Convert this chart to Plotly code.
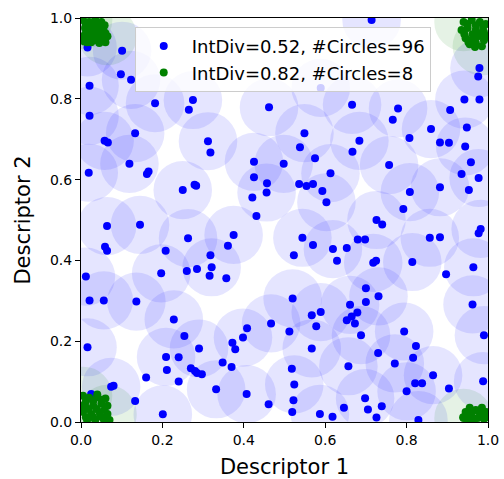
import plotly.graph_objects as go

# ---- data ----
blue_x = [0.016,0.101,0.098,0.123,0.021,0.182,0.275,0.265,0.021,0.133,0.058,0.066,0.312,
          0.589,0.462,0.666,0.549,0.538,
          0.714,0.979,0.976,0.779,0.942,0.979,0.907,0.766,0.860,0.948,0.807,0.684,0.882,0.904,0.944,0.667,
          0.318,0.119,0.019,0.166,0.162,0.250,0.279,0.283,0.064,0.145,0.263,0.059,0.064,0.208,0.318,0.321,0.285,0.260,0.197,0.316,0.012,
          0.425,0.498,0.575,0.425,0.457,0.456,0.421,0.613,0.536,0.554,0.570,0.593,0.603,0.431,0.375,0.361,0.544,0.570,0.523,0.619,0.653,0.629,0.357,
          0.757,0.958,0.935,0.977,0.882,0.953,0.808,0.792,0.726,0.740,0.982,0.977,0.680,0.698,0.857,0.882,0.718,0.725,0.814,0.964,0.897,0.700,
          0.021,0.056,0.136,0.228,0.254,0.016,0.290,0.209,0.240,0.211,0.270,0.280,0.285,0.297,0.160,0.240,0.074,0.080,0.025,0.133,0.201,0.332,
          0.520,0.661,0.567,0.589,0.467,0.408,0.512,0.578,0.653,0.665,0.398,0.372,0.379,0.567,0.348,0.370,0.518,0.657,0.524,0.407,0.522,0.461,0.519,0.587,0.618,0.646,
          0.731,0.700,0.962,0.679,0.673,0.794,0.688,0.990,0.823,0.730,0.816,0.771,0.865,0.988,0.821,0.838,0.904,0.800,0.698,0.705,0.739,0.726,0.829]
blue_y = [0.927,0.919,0.861,0.847,0.832,0.789,0.797,0.773,0.758,0.715,0.696,0.692,0.695,
          0.827,0.779,0.785,0.715,0.680,
          0.995,0.876,0.855,0.776,0.798,0.798,0.772,0.748,0.725,0.729,0.703,0.696,0.692,0.691,0.682,0.669,
          0.667,0.639,0.617,0.620,0.614,0.574,0.587,0.585,0.485,0.488,0.455,0.434,0.424,0.424,0.413,0.383,0.379,0.374,0.368,0.362,0.360,
          0.644,0.639,0.653,0.606,0.591,0.568,0.556,0.616,0.589,0.584,0.589,0.572,0.544,0.510,0.463,0.436,0.456,0.438,0.413,0.428,0.431,0.399,0.356,
          0.636,0.643,0.614,0.604,0.581,0.574,0.569,0.527,0.500,0.489,0.478,0.467,0.452,0.452,0.456,0.457,0.394,0.399,0.396,0.383,0.366,0.331,
          0.301,0.301,0.298,0.254,0.213,0.185,0.182,0.161,0.160,0.129,0.133,0.126,0.121,0.118,0.110,0.100,0.087,0.090,0.069,0.052,0.019,0.081,
          0.306,0.290,0.264,0.272,0.244,0.232,0.224,0.237,0.252,0.261,0.209,0.196,0.180,0.182,0.147,0.136,0.132,0.138,0.093,0.069,0.054,0.044,0.025,0.020,0.013,0.035,
          0.311,0.297,0.291,0.271,0.244,0.224,0.215,0.215,0.188,0.171,0.159,0.145,0.116,0.101,0.096,0.096,0.083,0.076,0.059,0.031,0.039,0.011,0.005]

green_x = [0.005,0.020,0.035,0.050,0.010,0.025,0.040,0.055,0.005,0.020,0.035,0.050,0.065,0.015,0.045,0.060,0.030,
           0.012,0.028,0.043,0.058,0.012,0.028,0.045,0.060,0.025,0.040,0.008,
           0.940,0.960,0.980,0.995,0.935,0.950,0.970,0.990,0.945,0.960,0.975,0.990,0.955,0.985,
           0.950,0.970,0.988,0.942,0.962,0.980,0.952,0.970,0.995,0.968,
           0.005,0.020,0.040,0.060,0.010,0.030,0.050,0.065,0.005,0.025,0.045,0.065,0.015,0.035,0.055,0.070,
           0.012,0.030,0.050,0.018,0.038,0.058,0.012,0.030,0.048,0.062,0.005,0.040,
           0.940,0.945,0.955,0.970,0.985,0.995,0.960,0.975,0.990,0.950,0.939,
           0.962,0.980,0.948,0.965,0.985,0.998]
green_y = [0.995,0.990,0.995,0.990,0.975,0.970,0.975,0.970,0.955,0.950,0.955,0.950,0.955,0.940,0.938,0.940,0.945,
           0.983,0.982,0.984,0.982,0.963,0.962,0.962,0.962,0.940,0.945,0.942,
           0.990,0.995,0.990,0.985,0.970,0.975,0.970,0.965,0.950,0.945,0.955,0.945,0.935,0.930,
           0.985,0.982,0.978,0.960,0.960,0.962,0.940,0.938,0.955,0.928,
           0.065,0.060,0.062,0.058,0.045,0.040,0.045,0.040,0.025,0.020,0.025,0.020,0.005,0.005,0.008,0.005,
           0.052,0.052,0.055,0.032,0.032,0.030,0.012,0.012,0.014,0.012,0.040,0.068,
           0.010,0.025,0.035,0.030,0.035,0.025,0.015,0.010,0.008,0.005,0.012,
           0.028,0.022,0.018,0.005,0.015,0.012]

tick_vals = [0.0, 0.2, 0.4, 0.6, 0.8, 1.0]
tick_text = ["0.0", "0.2", "0.4", "0.6", "0.8", "1.0"]
labels = ["IntDiv=0.52, #Circles=96", "IntDiv=0.82, #Circles=8"]
radius = 0.072


def circle_centers(xs, ys, r):
    cx, cy = [], []
    for x, y in zip(xs, ys):
        if all((x - a) ** 2 + (y - b) ** 2 > r * r for a, b in zip(cx, cy)):
            cx.append(x)
            cy.append(y)
    return cx, cy


shapes = []
for xs, ys, col in [(blue_x, blue_y, "rgba(0,0,255,0.1)"), (green_x, green_y, "rgba(0,128,0,0.1)")]:
    cx, cy = circle_centers(xs, ys, radius)
    for a, b in zip(cx, cy):
        shapes.append(dict(type="circle", xref="x", yref="y", x0=a - radius, x1=a + radius,
                           y0=b - radius, y1=b + radius, fillcolor=col, line=dict(width=0),
                           layer="below"))

fig = go.Figure()
fig.add_trace(go.Scatter(x=blue_x, y=blue_y, mode="markers", name=labels[0],
                         marker=dict(color="#0000ff", size=8)))
fig.add_trace(go.Scatter(x=green_x, y=green_y, mode="markers", name=labels[1],
                         marker=dict(color="#008000", size=8)))

axis_common = dict(range=[0, 1], showgrid=False, zeroline=False, showline=True, mirror=True,
                   linecolor="black", linewidth=1, ticks="outside", ticklen=5, tickwidth=1,
                   tickcolor="black", tickvals=tick_vals, ticktext=tick_text, automargin=False,
                   tickfont=dict(family="DejaVu Sans", size=14, color="black"))

fig.update_layout(
    width=504, height=479,
    margin=dict(l=81, r=16, t=18, b=57),
    paper_bgcolor="white", plot_bgcolor="white",
    shapes=shapes,
    font=dict(family="DejaVu Sans", color="black"),
    xaxis=dict(**axis_common, title=dict(text="Descriptor 1", font=dict(size=21), standoff=14)),
    yaxis=dict(**axis_common, title=dict(text="Descriptor 2", font=dict(size=21), standoff=13)),
    legend=dict(x=0.132, y=0.978, xanchor="left", yanchor="top",
                bgcolor="rgba(255,255,255,0.8)", bordercolor="#cccccc", borderwidth=1,
                font=dict(size=18, family="DejaVu Sans"), itemwidth=46),
    showlegend=True,
)

fig.write_html(
    "out.html",
    config={"displayModeBar": False},
    post_script="document.body.style.margin='0';document.body.style.overflow='hidden';",
)
